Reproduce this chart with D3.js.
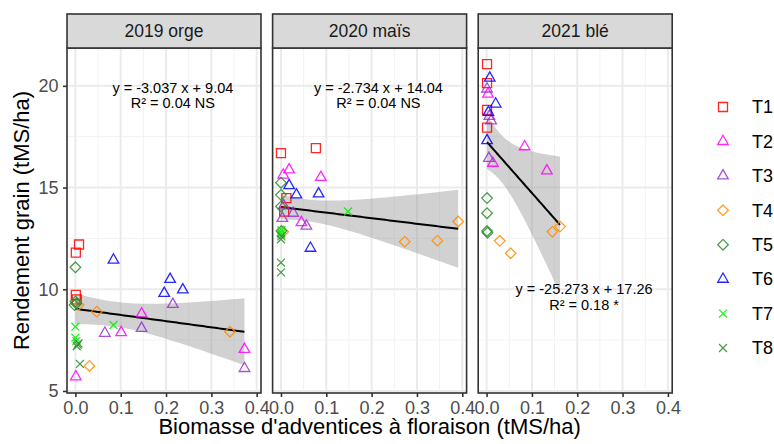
<!DOCTYPE html>
<html>
<head>
<meta charset="utf-8">
<script src="https://cdn.jsdelivr.net/npm/d3@7"></script>
<style>
body { margin: 0; background: #fff; }
text { font-family: "Liberation Sans", Arial, sans-serif; }
</style>
</head>
<body>
<script>
var width = 774;
var height = 444;

// facettes (années / cultures)
var years = ["2019 orge", "2020 maïs", "2021 blé"];
var treatments = ["T1", "T2", "T3", "T4", "T5", "T6", "T7", "T8"];

// points : [traitement, biomasse adventices, rendement]
var pts2019 = [
    ["T1", 0.008, 12.2], ["T1", 0.001, 11.8], ["T1", 0.001, 9.72], ["T1", 0.003, 9.5],
    ["T2", 0.001, 5.7], ["T2", 0.101, 7.87], ["T2", 0.146, 8.79], ["T2", 0.373, 7.05],
    ["T3", 0.065, 7.84], ["T3", 0.146, 8.08], ["T3", 0.215, 9.26], ["T3", 0.373, 6.11],
    ["T4", 0.007, 9.23], ["T4", 0.047, 8.9], ["T4", 0.031, 6.23], ["T4", 0.341, 7.91],
    ["T5", 0.000, 11.08], ["T5", 0.000, 9.4], ["T5", 0.002, 9.3], ["T5", -0.002, 9.22],
    ["T6", 0.084, 11.44], ["T6", 0.209, 10.49], ["T6", 0.196, 9.8], ["T6", 0.237, 9.97],
    ["T7", 0.000, 8.16], ["T7", 0.000, 7.62], ["T7", 0.002, 7.45], ["T7", 0.084, 8.24],
    ["T8", 0.007, 7.34], ["T8", 0.003, 7.2], ["T8", 0.010, 6.33], ["T8", 0.005, 7.28]
];
var pts2020 = [
    ["T1", 0.000, 16.69], ["T1", 0.077, 16.94], ["T1", 0.012, 14.48], ["T1", 0.007, 13.82],
    ["T2", 0.005, 15.62], ["T2", 0.018, 15.87], ["T2", 0.088, 15.5], ["T2", 0.045, 13.28],
    ["T3", 0.003, 13.49], ["T3", 0.027, 13.74], ["T3", 0.056, 13.11], ["T3", 0.006, 14.1],
    ["T4", 0.005, 12.83], ["T4", 0.273, 12.34], ["T4", 0.345, 12.39], ["T4", 0.391, 13.33],
    ["T5", 0.000, 15.24], ["T5", 0.000, 14.64], ["T5", 0.000, 14.07], ["T5", 0.001, 12.86],
    ["T6", 0.018, 15.1], ["T6", 0.034, 14.64], ["T6", 0.083, 14.69], ["T6", 0.065, 12.02],
    ["T7", 0.148, 13.82], ["T7", 0.000, 12.78], ["T7", 0.001, 12.9], ["T7", 0.000, 12.7],
    ["T8", 0.000, 12.46], ["T8", 0.000, 11.31], ["T8", 0.000, 10.83], ["T8", 0.001, 12.6]
];
var pts2021 = [
    ["T1", 0.001, 21.07], ["T1", 0.001, 20.13], ["T1", 0.001, 18.82], ["T1", 0.001, 17.95],
    ["T2", 0.003, 19.6], ["T2", 0.084, 17.01], ["T2", 0.133, 15.82], ["T2", 0.014, 16.2],
    ["T3", 0.001, 19.85], ["T3", 0.010, 18.28], ["T3", 0.005, 16.44], ["T3", 0.006, 18.5],
    ["T4", 0.029, 12.38], ["T4", 0.053, 11.77], ["T4", 0.145, 12.83], ["T4", 0.162, 13.08],
    ["T5", 0.001, 14.48], ["T5", 0.001, 13.74], ["T5", 0.001, 12.86], ["T5", 0.002, 12.78],
    ["T6", 0.007, 20.38], ["T6", 0.020, 19.11], ["T6", 0.004, 18.7], ["T6", 0.001, 17.31]
];
var panelPoints = [pts2019, pts2020, pts2021];

// équations affichées
var slopes = [-3.037, -2.734, -25.273];
var intercepts = [9.04, 14.04, 17.26];
var r2Labels = ["R² = 0.04 NS", "R² = 0.04 NS", "R² = 0.18 *"];
var labelX = [0.215, 0.215, 0.215];
var labelY = [19.9, 19.9, 10.0];

var xTicks = [0, 0.1, 0.2, 0.3, 0.4];
var yTicks = [5, 10, 15, 20];

// styles
var colors = {
    T1: "#ff0000", T2: "#ff00ff", T3: "#9a32cd", T4: "#ff8c00",
    T5: "#2e8b2e", T6: "#0000ff", T7: "#00ee00", T8: "#2e8b2e"
};
var shapes = { T1: "square", T2: "triangle", T3: "triangle", T4: "diamond",
    T5: "diamond", T6: "triangle", T7: "cross", T8: "cross" };

// symboles façon ggplot (taille = demi-largeur)
var symTypes = {
    square: { draw: function (p, r) { p.rect(-r * 0.85, -r * 0.85, r * 1.7, r * 1.7); } },
    triangle: { draw: function (p, r) {
        var h = r * 1.75;
        p.moveTo(0, -h * 2 / 3); p.lineTo(r, h / 3); p.lineTo(-r, h / 3); p.closePath();
    } },
    diamond: { draw: function (p, r) {
        p.moveTo(0, -r); p.lineTo(r, 0); p.lineTo(0, r); p.lineTo(-r, 0); p.closePath();
    } },
    cross: { draw: function (p, r) {
        var s = r * 0.75;
        p.moveTo(-s, -s); p.lineTo(s, s); p.moveTo(s, -s); p.lineTo(-s, s);
    } }
};
var symbol = d3.symbol().size(5.3);

var svg = d3.select("body")
    .append("svg")
    .attr("width", width)
    .attr("height", height);

var panel = { left: 67, width: 194, pitch: 205.6, top: 48, bottom: 393, stripTop: 14 };

var yScale = d3.scaleLinear()
    .domain([4.9, 21.86])
    .range([panel.bottom, panel.top]);

// quantile t (approx. Cornish-Fisher)
function tQuantile(df) {
    var z = 1.959964;
    return z + (Math.pow(z, 3) + z) / (4 * df) +
        (5 * Math.pow(z, 5) + 16 * Math.pow(z, 3) + 3 * z) / (96 * df * df);
}

years.forEach(function (yr, i) {
    var x0 = panel.left + i * panel.pitch;
    var xScale = d3.scaleLinear()
        .domain([-0.0185, 0.4095])
        .range([x0, x0 + panel.width]);
    var g = svg.append("g");

    // fond + grilles
    g.append("rect")
        .attr("x", x0).attr("y", panel.top)
        .attr("width", panel.width).attr("height", panel.bottom - panel.top)
        .attr("fill", "#fff");

    var xMinor = d3.range(xTicks.length - 1).map(function (k) { return (xTicks[k] + xTicks[k + 1]) / 2; });
    var yMinor = d3.range(yTicks.length - 1).map(function (k) { return (yTicks[k] + yTicks[k + 1]) / 2; });

    g.selectAll(".ymin").data(yMinor).enter().append("line")
        .attr("x1", x0).attr("x2", x0 + panel.width)
        .attr("y1", yScale).attr("y2", yScale)
        .attr("stroke", "#f2f2f2").attr("stroke-width", 1);
    g.selectAll(".xmin").data(xMinor).enter().append("line")
        .attr("x1", xScale).attr("x2", xScale)
        .attr("y1", panel.top).attr("y2", panel.bottom)
        .attr("stroke", "#f2f2f2").attr("stroke-width", 1);
    g.selectAll(".ymaj").data(yTicks).enter().append("line")
        .attr("x1", x0).attr("x2", x0 + panel.width)
        .attr("y1", yScale).attr("y2", yScale)
        .attr("stroke", "#ebebeb").attr("stroke-width", 2);
    g.selectAll(".xmaj").data(xTicks).enter().append("line")
        .attr("x1", xScale).attr("x2", xScale)
        .attr("y1", panel.top).attr("y2", panel.bottom)
        .attr("stroke", "#ebebeb").attr("stroke-width", 2);

    // régression + intervalle de confiance
    var pts = panelPoints[i];
    var a = intercepts[i], b = slopes[i];
    var n = pts.length;
    var xm = d3.mean(pts, function (d) { return d[1]; });
    var sxx = d3.sum(pts, function (d) { return (d[1] - xm) * (d[1] - xm); });
    var sse = d3.sum(pts, function (d) { var e = d[2] - (a + b * d[1]); return e * e; });
    var s = Math.sqrt(sse / (n - 2));
    var t = tQuantile(n - 2);
    var xmin = Math.max(0, d3.min(pts, function (d) { return d[1]; }));
    var xmax = d3.max(pts, function (d) { return d[1]; });
    var grid = d3.range(0, 81).map(function (k) { return xmin + (xmax - xmin) * k / 80; });
    var bandData = grid.map(function (x) {
        var fit = a + b * x;
        var se = s * Math.sqrt(1 / n + (x - xm) * (x - xm) / sxx);
        return { x: x, lo: fit - t * se, hi: fit + t * se, fit: fit };
    });

    g.append("path")
        .datum(bandData)
        .attr("d", d3.area()
            .x(function (d) { return xScale(d.x); })
            .y0(function (d) { return yScale(d.lo); })
            .y1(function (d) { return yScale(d.hi); }))
        .attr("fill", "#999999")
        .attr("fill-opacity", 0.45);

    g.append("path")
        .datum(bandData)
        .attr("d", d3.line()
            .x(function (d) { return xScale(d.x); })
            .y(function (d) { return yScale(d.fit); }))
        .attr("fill", "none")
        .attr("stroke", "#000")
        .attr("stroke-width", 2);

    // points
    g.selectAll(".pt").data(pts).enter().append("path")
        .attr("transform", function (d) { return "translate(" + xScale(d[1]) + "," + yScale(d[2]) + ")"; })
        .attr("d", function (d) { return symbol.type(symTypes[shapes[d[0]]])(); })
        .attr("fill", "none")
        .attr("stroke", function (d) { return colors[d[0]]; })
        .attr("stroke-width", 1.3)
        .attr("stroke-opacity", 0.85);

    // équation
    var eq = "y = " + b.toFixed(3) + " x + " + a.toFixed(2);
    g.append("text")
        .attr("x", xScale(labelX[i])).attr("y", yScale(labelY[i]))
        .attr("text-anchor", "middle").attr("dy", "0.35em")
        .attr("font-size", "14.5px").attr("fill", "#000")
        .text(eq);
    g.append("text")
        .attr("x", xScale(labelX[i])).attr("y", yScale(labelY[i]) + 15.5)
        .attr("text-anchor", "middle").attr("dy", "0.35em")
        .attr("font-size", "14.5px").attr("fill", "#000")
        .text(r2Labels[i]);

    // bordure
    g.append("rect")
        .attr("x", x0).attr("y", panel.top)
        .attr("width", panel.width).attr("height", panel.bottom - panel.top)
        .attr("fill", "none").attr("stroke", "#333").attr("stroke-width", 1.6);

    // bandeau
    g.append("rect")
        .attr("x", x0).attr("y", panel.stripTop)
        .attr("width", panel.width).attr("height", panel.top - panel.stripTop)
        .attr("fill", "#d9d9d9").attr("stroke", "#333").attr("stroke-width", 1.6);
    g.append("text")
        .attr("x", x0 + panel.width / 2).attr("y", (panel.top + panel.stripTop) / 2)
        .attr("text-anchor", "middle").attr("dy", "0.35em")
        .attr("font-size", "17.5px").attr("fill", "#1a1a1a")
        .text(yr);

    // axe x
    var xAxis = d3.axisBottom(xScale)
        .tickValues(xTicks)
        .tickFormat(d3.format(".1f"))
        .tickSize(4)
        .tickPadding(4.5);
    var ax = svg.append("g")
        .attr("transform", "translate(0," + panel.bottom + ")")
        .call(xAxis);
    ax.select(".domain").remove();
    ax.selectAll("line").attr("stroke", "#333").attr("stroke-width", 1.6);
    ax.selectAll("text").attr("fill", "#4d4d4d").attr("font-size", "18px")
        .attr("font-family", "Liberation Sans, Arial, sans-serif");
});

// axe y
var yAxis = d3.axisLeft(yScale)
    .tickValues(yTicks)
    .tickSize(4)
    .tickPadding(4.5);
var ay = svg.append("g")
    .attr("transform", "translate(" + panel.left + ",0)")
    .call(yAxis);
ay.select(".domain").remove();
ay.selectAll("line").attr("stroke", "#333").attr("stroke-width", 1.6);
ay.selectAll("text").attr("fill", "#4d4d4d").attr("font-size", "18px")
    .attr("font-family", "Liberation Sans, Arial, sans-serif");

// titres d'axes
var plotRight = panel.left + 2 * panel.pitch + panel.width;
svg.append("text")
    .attr("x", (panel.left + plotRight) / 2).attr("y", 434)
    .attr("text-anchor", "middle")
    .attr("font-size", "22px").attr("fill", "#000")
    .text("Biomasse d'adventices à floraison (tMS/ha)");
svg.append("text")
    .attr("transform", "translate(29," + (panel.top + panel.bottom) / 2 + ") rotate(-90)")
    .attr("text-anchor", "middle")
    .attr("font-size", "22px").attr("fill", "#000")
    .text("Rendement grain (tMS/ha)");

// légende
var legend = svg.append("g");
var legendY = d3.scalePoint().domain(treatments).range([107, 348]);
treatments.forEach(function (tr) {
    legend.append("path")
        .attr("transform", "translate(723," + legendY(tr) + ")")
        .attr("d", symbol.type(symTypes[shapes[tr]])())
        .attr("fill", "none")
        .attr("stroke", colors[tr])
        .attr("stroke-width", 1.3)
        .attr("stroke-opacity", 0.85);
    legend.append("text")
        .attr("x", 752).attr("y", legendY(tr))
        .attr("dy", "0.35em")
        .attr("font-size", "18px").attr("fill", "#000")
        .text(tr);
});
</script>
</body>
</html>
